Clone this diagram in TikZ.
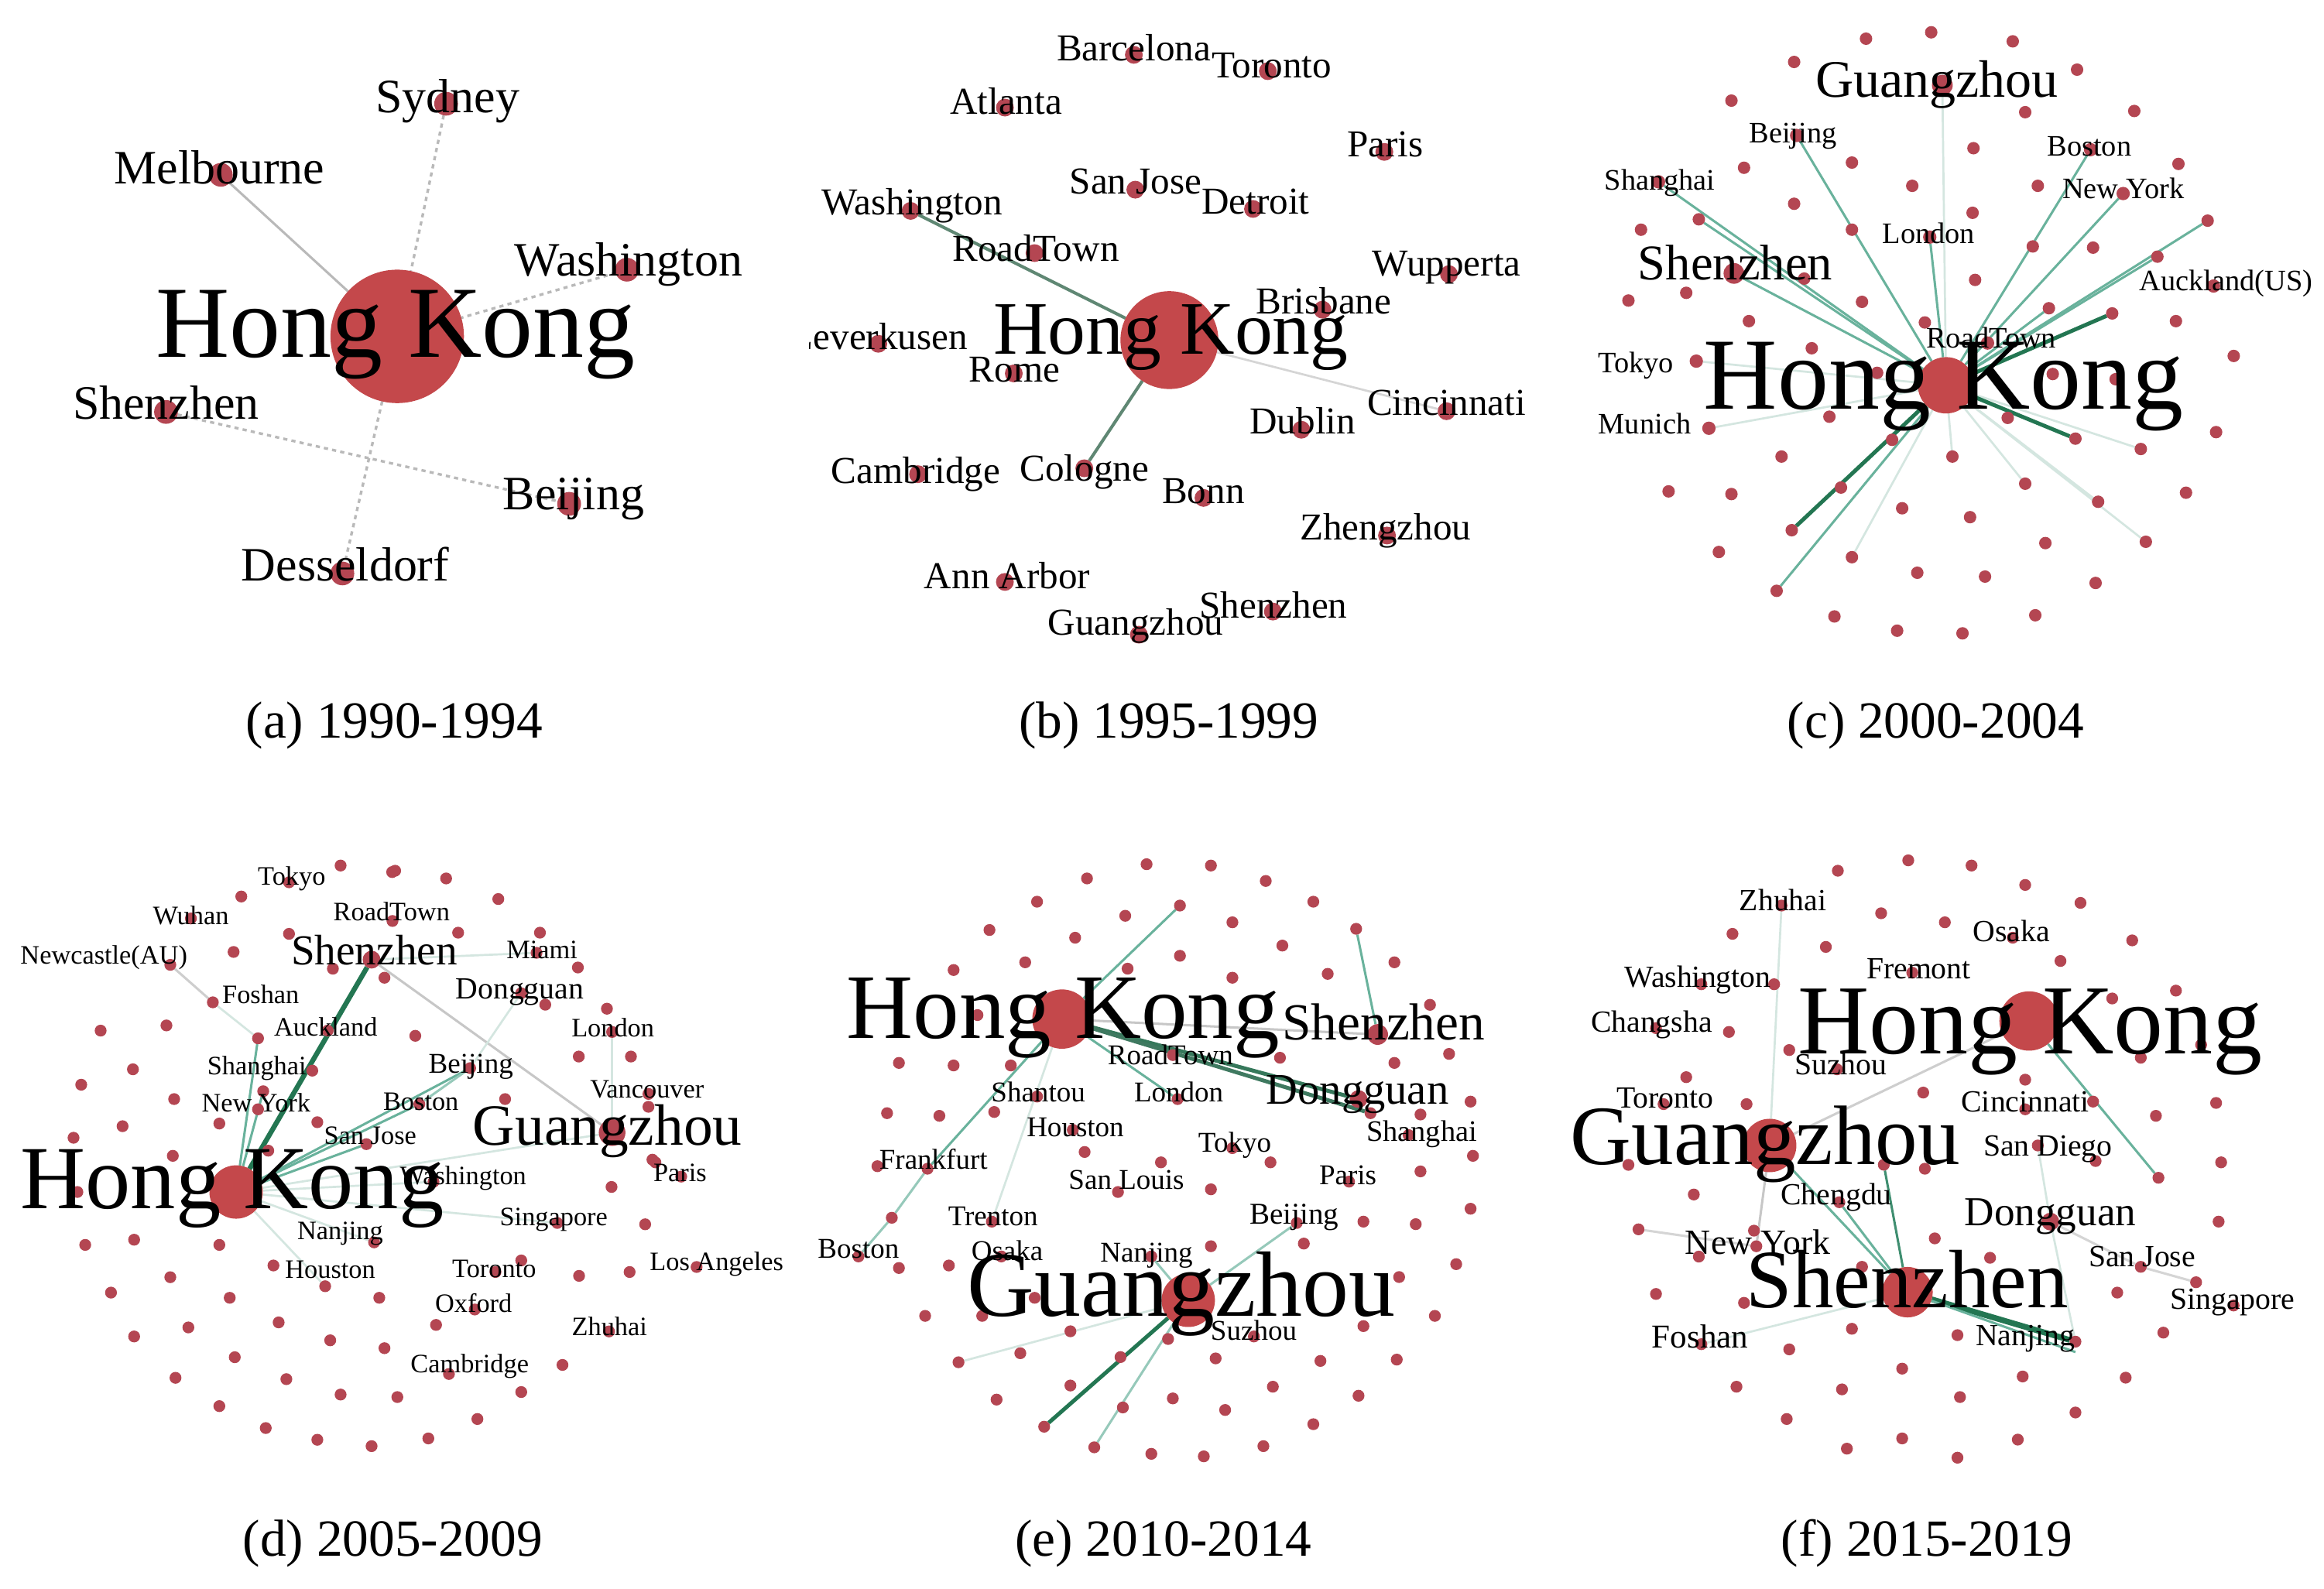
\documentclass[tikz,border=0pt]{standalone}
\usepackage{fontspec}
\setmainfont{Liberation Serif}
\pgfdeclarelayer{background}
\pgfsetlayers{background,main}
\definecolor{nodered}{RGB}{180,70,82}
\definecolor{bigred}{RGB}{196,72,75}
\definecolor{tealE}{RGB}{105,178,156}
\definecolor{darkE}{RGB}{35,118,82}
\definecolor{faintE}{RGB}{212,230,224}
\definecolor{grayE}{RGB}{185,185,185}
\definecolor{bE}{RGB}{95,135,115}
\tikzset{
  dt/.style={circle, fill=nodered, draw=none, inner sep=0pt, outer sep=0pt, minimum size=#1*0.569pt},
  dt/.default=4,
  bgc/.style={circle, fill=bigred, draw=none, inner sep=0pt, outer sep=0pt, minimum size=#1*0.569pt},
  lb/.style={inner sep=0pt, anchor=base, text=black, font=\fontsize{#1pt}{#1pt}\selectfont},
  te/.style={draw=tealE, line width=0.45pt},
  de/.style={draw=darkE, line width=0.75pt},
  fe/.style={draw=faintE, line width=0.4pt},
  ge/.style={draw=grayE, line width=0.45pt},
  ae/.style={draw=grayE, line width=0.5pt, dash pattern=on 0.8pt off 0.8pt},
  be/.style={draw=bE, line width=0.6pt},
}
\begin{document}
\begin{tikzpicture}[x=0.01cm, y=-0.01cm]
\useasboundingbox (0,0) rectangle (1568,1072);
\begin{pgfonlayer}{background}
\fill[white] (0,0) rectangle (1568,1072);
\end{pgfonlayer}

%% ================= (a) =================
\node[bgc=45] (aHK) at (268,227) {};
\node[dt=8] (aSyd) at (301,70) {};
\node[dt=8] (aMel) at (149,118) {};
\node[dt=8] (aWas) at (423,182) {};
\node[dt=8] (aShz) at (112,278) {};
\node[dt=8] (aBei) at (384,340) {};
\node[dt=8] (aDes) at (231,387) {};
\node[lb=19.6] (aHKl) at (267,241) {Hong Kong};
\node[lb=9.2] (aSydl) at (302,76) {Sydney};
\node[lb=9.2] (aMell) at (148,124) {Melbourne};
\node[lb=9.2] (aWasl) at (424,186) {Washington};
\node[lb=9.2] (aShzl) at (112,283) {Shenzhen};
\node[lb=9.2] (aBeil) at (387,344) {Beijing};
\node[lb=9.2] (aDesl) at (233,392) {Desseldorf};
\begin{pgfonlayer}{background}
\draw[ge] (aMel) -- (aHK);
\draw[ae] (aSyd) -- (aHK);
\draw[ae] (aHK) -- (aDes);
\draw[ae] (aWas) -- (aHK);
\draw[ae] (aShz) -- (aBei);
\end{pgfonlayer}

%% ================= (b) =================
\node[bgc=33] (bHK) at (789,229.5) {};
\node[dt=6] (bBar) at (765,37) {};
\node[dt=6] (bTor) at (855.4,48) {};
\node[dt=6] (bAtl) at (678,72.6) {};
\node[dt=6] (bPar) at (934,102.5) {};
\node[dt=6] (bSJ) at (766,128) {};
\node[dt=6] (bDet) at (845.4,141) {};
\node[dt=6] (bWas) at (614.4,142.3) {};
\node[dt=6] (bRT) at (698,170.8) {};
\node[dt=6] (bWup) at (977.6,185) {};
\node[dt=6] (bBri) at (892.3,209) {};
\node[dt=6] (bLev) at (592.6,232) {};
\node[dt=6] (bRom) at (684,252) {};
\node[dt=6] (bCin) at (976,277.5) {};
\node[dt=6] (bDub) at (878,290) {};
\node[dt=6] (bCam) at (619.4,320) {};
\node[dt=6] (bCol) at (731.6,316) {};
\node[dt=6] (bBon) at (812,336) {};
\node[dt=6] (bZhe) at (935.8,361.4) {};
\node[dt=6] (bAnn) at (678,392.7) {};
\node[dt=6] (bShz) at (858.8,412.7) {};
\node[dt=6] (bGz) at (768.4,428.3) {};
\node[lb=14.5] (bHKl) at (790,239) {Hong Kong};
\node[lb=7.3] (bBarl) at (765,41) {Barcelona};
\node[lb=7.3] (bTorl) at (858,52.6) {Toronto};
\node[lb=7.3] (bAtll) at (678.8,77) {Atlanta};
\node[lb=7.3] (bParl) at (934.6,106) {Paris};
\node[lb=7.3] (bSJl) at (766.3,131) {San Jose};
\node[lb=7.3] (bDetl) at (847.1,144.6) {Detroit};
\node[lb=7.3] (bWasl) at (615.2,145) {Washington};
\node[lb=7.3] (bRTl) at (698.9,176.5) {RoadTown};
\node[lb=7.3] (bWupl) at (976,186.4) {Wupperta};
\node[lb=7.3] (bBril) at (893.1,212) {Brisbane};
\begin{scope}
\clip (546,200) rectangle (720,260);
\node[lb=7.3] (bLevl) at (593,236) {Leverkusen};
\end{scope}
\node[lb=7.3] (bRoml) at (684.6,257.6) {Rome};
\node[lb=7.3] (bCinl) at (976,280) {Cincinnati};
\node[lb=7.3] (bDubl) at (878.9,293) {Dublin};
\node[lb=7.3] (bCaml) at (617.8,326) {Cambridge};
\node[lb=7.3] (bColl) at (731.6,324.4) {Cologne};
\node[lb=7.3] (bBonl) at (811.9,340) {Bonn};
\node[lb=7.3] (bZhel) at (934.9,364.3) {Zhengzhou};
\node[lb=7.3] (bAnnl) at (679.6,397) {Ann Arbor};
\node[lb=7.3] (bShzl) at (859.2,417) {Shenzhen};
\node[lb=7.3] (bGzl) at (766.3,428.3) {Guangzhou};
\begin{pgfonlayer}{background}
\draw[be] (bWas) -- (bHK);
\draw[be] (bCol) -- (bHK);
\draw[fe, draw=grayE!60] (bHK) -- (bCin);
\end{pgfonlayer}

%% ================= (c) =================
\foreach \x/\y [count=\i] in {1259/26.1, 1303/21.8, 1358/27.9, 1210.5/41.8, 1401.4/47, 1168.2/67.9, 1366.4/75.7, 1440/74.9, 1331.5/100, 1249.5/109.7, 1176.7/113.2, 1469.8/110.6, 1290.2/125.4, 1374.9/125.4, 1210.5/137.5, 1330.9/143.6, 1107.2/155, 1249.5/155, 1371.5/166.3, 1412.2/167.1, 1332.6/188.9, 1098.7/202.8, 1137.7/197.6, 1256.3/203.7, 1217.3/188, 1468.1/216.7, 1180/216.7, 1298.7/217.6, 1222.4/235, 1507.1/240.2, 1234.3/281.2, 1202/308.1, 1276.6/296.8, 1317.3/308.1, 1354.6/282, 1444.4/303, 1495.2/291.6, 1125.8/331.6, 1168.2/333.4, 1242.1/329, 1366.4/326.4, 1415.6/338.6, 1474.9/332.5, 1283.4/343, 1329.2/349, 1380/366.5, 1447.8/365.6, 1159.7/372.5, 1249.5/376, 1293.6/386.5, 1339.3/389.1, 1413.9/393.4, 1237.7/416, 1373.2/415.2, 1280/425.6, 1324.1/427.4, 1385/252.4, 1427.4/255.9, 1266.5/251.6}
  \node[dt=4.2] (cd\i) at (\x,\y) {};
\node[bgc=19] (cHK) at (1313,260) {};
\node[dt=7] (cGz) at (1310.5,57.5) {};
\node[dt=4.5] (cBei) at (1212.2,91.4) {};
\node[dt=4.5] (cSha) at (1119,122.7) {};
\node[dt=7] (cShz) at (1169.9,184.5) {};
\node[dt=4.5] (cLon) at (1302,160) {};
\node[dt=4.5] (cBos) at (1410.5,101) {};
\node[dt=4.5] (cNY) at (1432.5,130.6) {};
\node[dt=4.5] (cAuc) at (1493.5,193) {};
\node[dt=4.5] (cRT) at (1341,231.5) {};
\node[dt=4.5] (cTok) at (1144.5,243.7) {};
\node[dt=4.5] (cMun) at (1153,289) {};
\node[dt=4.2] (ca) at (1208.9,357.8) {};
\node[dt=4.2] (cb) at (1198.7,398.7) {};
\node[dt=4.2] (cc) at (1400.3,296) {};
\node[dt=4.2] (cdd) at (1489.5,148.9) {};
\node[dt=4.2] (ce) at (1455.6,173.2) {};
\node[dt=4.2] (cf) at (1425.1,211.5) {};
\node[dt=4.2] (cg) at (1382.4,208) {};
\node[dt=4.2] (ch) at (1146.2,148) {};
\node[lb=19.6] (cHKl) at (1311.4,276) {Hong Kong};
\node[lb=10.1] (cGzl) at (1306.8,65.3) {Guangzhou};
\node[lb=9.6] (cShzl) at (1170.8,189) {Shenzhen};
\node[lb=5.7] (cBeil) at (1209.7,96.6) {Beijing};
\node[lb=5.7] (cShal) at (1119.9,128) {Shanghai};
\node[lb=5.7] (cLonl) at (1301.3,164.5) {London};
\node[lb=5.7] (cBosl) at (1409.7,105.3) {Boston};
\node[lb=5.7] (cNYl) at (1432.6,134) {New York};
\node[lb=5.7] (cAucl) at (1502,195.9) {Auckland(US)};
\node[lb=5.7] (cRTl) at (1343.5,235) {RoadTown};
\node[lb=5.7] (cTokl) at (1103.7,251.6) {Tokyo};
\node[lb=5.7] (cMunl) at (1109.7,292.5) {Munich};
\begin{pgfonlayer}{background}
\foreach \n in {cTok,cMun,cd41,cd42,cd47,cd34,cd49,cGz,cd36}
  \draw[fe] (cHK) -- (\n);
\foreach \n in {cBei,cSha,ch,cShz,cLon,cBos,cNY,cdd,ce,cg,cb}
  \draw[te] (cHK) -- (\n);
\foreach \n in {ca,cf,cc}
  \draw[de] (cHK) -- (\n);
\end{pgfonlayer}

%% ================= (d) =================
\foreach \x/\y [count=\i] in {229.8/584.1, 264.6/588.5, 162.8/605, 157.6/642.4, 195/630.2, 224.6/653.7, 259.4/659.8, 112.3/692, 67.9/695.5, 89.7/721.6, 54.8/732, 117.5/741.7, 82.7/760, 148/758.2, 214.1/757.3, 49.6/767.8, 116.6/780, 181/776.5, 266.6/587.6, 301/592.8, 336.2/606.7, 309.1/629.4, 364.3/629.4, 389.9/652.9, 409.5/680.7, 367.9/678, 280.2/699, 390.5/713, 425.7/713, 340.8/741.7, 437.5/746.9, 440.2/782.6, 442.2/784.4, 412.6/801, 435.3/826.2, 52.2/804.4, 57.5/840.1, 90.5/836.6, 148/840.1, 184.5/854, 114.9/861.9, 74.9/872.3, 155/875.8, 255.9/875.8, 188/892.4, 294.2/894.1, 90.5/901.9, 127.1/895.8, 222.8/904.5, 259.4/909.8, 158.4/915.9, 379.5/921.1, 118.4/929.8, 193.2/930.7, 229.8/941.1, 268.1/942.8, 351.7/939.4, 148/948.9, 322.1/957.6, 179.3/963.7, 214.1/971.6, 250.7/975.9, 289/970.7, 424.8/858.4, 390.7/861, 351.7/850.6}
  \node[dt=4] (dd\i) at (\x,\y) {};
\node[bgc=18] (dHK) at (159.3,804.4) {};
\node[dt=9] (dGz) at (413,764.3) {};
\node[dt=6] (dShz) at (250.7,647.6) {};
\node[dt=4] (dTok) at (195,595.4) {};
\node[dt=4] (dWuh) at (128.8,619.8) {};
\node[dt=4] (dNew) at (114.9,651.1) {};
\node[dt=4] (dRT) at (264.8,621.5) {};
\node[dt=4] (dFos) at (143.6,676.4) {};
\node[dt=4] (dAuc) at (221.1,695.5) {};
\node[dt=4] (dSha) at (210.7,722.5) {};
\node[dt=4] (dNY) at (174.1,748.6) {};
\node[dt=4] (dSJ) at (247.2,772.1) {};
\node[dt=4] (dMia) at (362,643) {};
\node[dt=4] (dDon) at (351.6,670.3) {};
\node[dt=4] (dLon) at (413,696.4) {};
\node[dt=4] (dBei) at (317.2,720.8) {};
\node[dt=4] (dBos) at (282.9,745.1) {};
\node[dt=4] (dVan) at (437.5,738.2) {};
\node[dt=4] (dWas) at (292.5,797.5) {};
\node[dt=4] (dPar) at (459.6,794) {};
\node[dt=4] (dSin) at (376,825.3) {};
\node[dt=4] (dNan) at (252.4,838.4) {};
\node[dt=4] (dHou) at (219.4,868) {};
\node[dt=4] (dTor) at (334.3,858.4) {};
\node[dt=4] (dLA) at (470,855) {};
\node[dt=4] (dOxf) at (320.3,883.7) {};
\node[dt=4] (dZhu) at (410.9,898.5) {};
\node[dt=4] (dCam) at (302.9,927.2) {};
\node[dt=4] (da) at (174.1,700.7) {};
\node[dt=4] (db) at (177.6,736.4) {};
\node[lb=17.3] (dHKl) at (156.7,815.8) {Hong Kong};
\node[lb=11.2] (dGzl) at (409.9,773) {Guangzhou};
\node[lb=8.2] (dShzl) at (252.5,651) {Shenzhen};
\node[lb=5.9] (dDonl) at (350.7,673.8) {Dongguan};
\node[lb=5.5] (dBeil) at (317.7,724.2) {Beijing};
\node[lb=5.1] (dTokl) at (196.8,597.2) {Tokyo};
\node[lb=5.1] (dWuhl) at (128.8,624.1) {Wuhan};
\node[lb=5.1] (dNewl) at (70.1,650.3) {Newcastle(AU)};
\node[lb=5.1] (dRTl) at (264.2,621.5) {RoadTown};
\node[lb=5.1] (dFosl) at (175.9,677.2) {Foshan};
\node[lb=5.1] (dAucl) at (219.8,699) {Auckland};
\node[lb=5.1] (dShal) at (173.3,725.1) {Shanghai};
\node[lb=5.1] (dNYl) at (172.8,750.4) {New York};
\node[lb=5.1] (dSJl) at (249.8,772.1) {San Jose};
\node[lb=5.1] (dMial) at (365.7,646.8) {Miami};
\node[lb=5.1] (dLonl) at (413.5,699.5) {London};
\node[lb=5.1] (dBosl) at (284,749.5) {Boston};
\node[lb=5.1] (dVanl) at (436.6,740.8) {Vancouver};
\node[lb=5.1] (dWasl) at (312.5,799.2) {Washington};
\node[lb=5.1] (dParl) at (458.8,797.5) {Paris};
\node[lb=5.1] (dSinl) at (373.6,827) {Singapore};
\node[lb=5.1] (dNanl) at (229.5,836.6) {Nanjing};
\node[lb=5.1] (dHoul) at (222.8,862.8) {Houston};
\node[lb=5.1] (dTorl) at (333.4,861.9) {Toronto};
\node[lb=5.1] (dLAl) at (483.5,857.5) {Los Angeles};
\node[lb=5.1] (dOxfl) at (319.5,885.4) {Oxford};
\node[lb=5.1] (dZhul) at (411.2,901) {Zhuhai};
\node[lb=5.1] (dCaml) at (316.9,926.3) {Cambridge};
\begin{pgfonlayer}{background}
\draw[de, line width=0.95pt] (dShz) -- (dHK);
\foreach \n in {da,db,dBei,dBos,dSJ}
  \draw[te] (dHK) -- (\n);
\foreach \n in {dWas,dSin,dNan,dHou,dGz}
  \draw[fe] (dHK) -- (\n);
\draw[fe] (dFos) -- (da);
\draw[ge, draw=grayE!70] (dNew) -- (dFos);
\draw[ge, draw=grayE!80] (dShz) -- (dGz);
\draw[te, draw=tealE!70] (dBei) -- (dBos);
\draw[fe] (dBei) -- (dDon);
\draw[fe] (dLon) -- (dGz);
\draw[fe] (dShz) -- (dMia);
\end{pgfonlayer}

%% ================= (e) =================
\foreach \x/\y [count=\i] in {773.6/583.2, 817/584.1, 733.4/592.8, 854/594.5, 699.7/608.5, 886.1/608.5, 759.2/618, 667.6/627.6, 831.5/622.4, 725.4/632.8, 865.2/638.1, 691.7/649.4, 796.1/645, 940.8/649.4, 643.4/654.6, 760.8/653.7, 831.5/659.8, 895.8/657.2, 964.8/678.1, 659.5/685, 977.7/711.2, 606.5/717.3, 643.4/719, 682/719, 863.6/713.8, 940.8/717.3, 598.5/751.2, 633.8/753, 670.8/750.4, 958.4/752.1, 992.2/743.4, 731.8/777.4, 783.3/784.4, 857.2/784.4, 958.4/790.5, 993.8/780, 817/802.6, 592/787, 919.9/824.4, 955.2/826.1, 992.2/815.7, 817/841, 879.7/839.2, 640.2/854, 982.5/853.1, 944/861.8, 606.5/855.7, 698.1/875.8, 624.2/888, 662.7/888, 968.1/888, 722.2/898.4, 788.1/903.6, 919.9/894.9, 688.4/913.2, 756/915.8, 820.2/916.7, 890.9/918.4, 942.4/917.5, 722.2/935, 858.8/935.8, 916.6/941.9, 672.4/944.5, 791.3/943.7, 757.6/949.8, 826.6/951.5, 886.1/961.1, 776.8/981.1, 812.2/982.8, 852.4/975.9}
  \node[dt=4] (ed\i) at (\x,\y) {};
\node[bgc=20] (eHK) at (716.5,687.7) {};
\node[bgc=18] (eGz) at (801.7,877.5) {};
\node[dt=7] (eShz) at (929.5,698.1) {};
\node[dt=6] (eDon) at (916.6,741.7) {};
\node[dt=4] (eRT) at (791.3,712) {};
\node[dt=4] (eSht) at (699.7,740) {};
\node[dt=4] (eLon) at (794.5,741.7) {};
\node[dt=4] (eHou) at (723.8,762.5) {};
\node[dt=4] (eTok) at (831.5,774.8) {};
\node[dt=4] (eSha) at (950.4,766) {};
\node[dt=4] (eFra) at (625.8,788.7) {};
\node[dt=4] (eSL) at (754.3,804.4) {};
\node[dt=4] (ePar) at (910.2,797.4) {};
\node[dt=4] (eTre) at (669.2,824.4) {};
\node[dt=4] (eBei) at (874.9,825.3) {};
\node[dt=4] (eBos) at (579.2,847.9) {};
\node[dt=4] (eOsa) at (675.6,847.9) {};
\node[dt=4] (eNan) at (776.8,847.9) {};
\node[dt=4] (eSuz) at (846,901.9) {};
\node[dt=4] (ea) at (924.7,751.2) {};
\node[dt=4] (eb) at (601.7,821.8) {};
\node[dt=4] (ec) at (646.7,919.3) {};
\node[dt=4] (edd) at (704.5,962.8) {};
\node[dt=4] (ee) at (738.3,976.7) {};
\node[dt=4] (ef) at (796.1,611.1) {};
\node[dt=4] (eg) at (915,626.8) {};
\node[lb=17.7] (eHKl) at (717.4,700.7) {Hong Kong};
\node[lb=17.8] (eGzl) at (797,888) {Guangzhou};
\node[lb=10] (eShzl) at (933.5,701.6) {Shenzhen};
\node[lb=8.4] (eDonl) at (915.9,745.1) {Dongguan};
\node[lb=5.5] (eRTl) at (789.7,718.2) {RoadTown};
\node[lb=5.5] (eShtl) at (700.5,743.4) {Shantou};
\node[lb=5.5] (eLonl) at (795.3,743.4) {London};
\node[lb=5.5] (eHoul) at (725.5,766.9) {Houston};
\node[lb=5.5] (eTokl) at (833.1,777.4) {Tokyo};
\node[lb=5.7] (eShal) at (959.3,770) {Shanghai};
\node[lb=5.5] (eFral) at (629.8,788.7) {Frankfurt};
\node[lb=5.5] (eSLl) at (760,802.6) {San Louis};
\node[lb=5.5] (eParl) at (909.4,799.2) {Paris};
\node[lb=5.5] (eTrel) at (670,827) {Trenton};
\node[lb=5.8] (eBeil) at (873.3,826.1) {Beijing};
\node[lb=5.5] (eBosl) at (579.2,848.8) {Boston};
\node[lb=5.5] (eOsal) at (679.6,850.5) {Osaka};
\node[lb=5.5] (eNanl) at (773.6,851.4) {Nanjing};
\node[lb=5.5] (eSuzl) at (845.9,904.5) {Suzhou};
\begin{pgfonlayer}{background}
\draw[de, draw=darkE!80!gray] (eHK) -- (eDon);
\draw[de, draw=darkE!70!gray] (eHK) -- (ea);
\draw[de] (eGz) -- (edd);
\foreach \n in {eLon,ef,eFra}
  \draw[te] (eHK) -- (\n);
\draw[te, draw=tealE!70] (eFra) -- (eb) -- (eBos);
\draw[te] (eShz) -- (eg);
\foreach \n in {eBei,ee,eNan}
  \draw[te, draw=tealE!70] (eGz) -- (\n);
\draw[ge, draw=grayE!80] (eHK) -- (eShz);
\draw[fe] (eGz) -- (ec);
\draw[fe] (eHK) -- (eTre);
\end{pgfonlayer}

%% ================= (f) =================
\foreach \x/\y [count=\i] in {1240/587.6, 1287.5/580.6, 1330.2/584.1, 1366.4/597.2, 1403.7/609.3, 1269.2/616.3, 1312.2/622.4, 1168.9/630.2, 1438.6/634.6, 1231.9/639, 1390.2/648.5, 1197/664.2, 1468.1/668.5, 1425.1/673.8, 1166.5/696.4, 1485.1/705.1, 1207.2/708.6, 1444.4/713.8, 1366.4/728.6, 1137.7/726.9, 1297.6/737.3, 1178.4/745.1, 1454.6/753, 1495.2/744.3, 1366.4/748.6, 1098.7/786.1, 1142.8/806.1, 1298.7/788.7, 1498.6/784.4, 1413.9/783.5, 1496.9/824.4, 1305.4/835.7, 1342.7/848.8, 1146.2/848, 1117.3/873.2, 1176.7/879.2, 1256.3/854.9, 1428.5/872.3, 1249.5/896.7, 1320.7/901, 1459.6/899.3, 1207.2/910.6, 1283.4/923.6, 1364.7/928.9, 1434.2/929.7, 1171.6/935.8, 1242.8/937.6, 1322.4/942.8, 1400.3/953.2, 1205.5/957.6, 1283.4/970.7, 1361.4/971.5, 1246.1/977.6, 1320.7/983.7}
  \node[dt=4] (fd\i) at (\x,\y) {};
\node[bgc=20] (fHK) at (1369,689) {};
\node[bgc=18] (fGz) at (1194,773) {};
\node[bgc=17] (fShz) at (1287,872) {};
\node[dt=6] (fDon) at (1383.4,824.4) {};
\node[dt=4] (fZhu) at (1202,611.1) {};
\node[dt=4] (fOsa) at (1358,632.8) {};
\node[dt=4] (fFre) at (1290.2,656.4) {};
\node[dt=4] (fWas) at (1147.9,664.2) {};
\node[dt=4] (fCha) at (1117.3,693.8) {};
\node[dt=4] (fSuz) at (1239.4,721.6) {};
\node[dt=4] (fTor) at (1122.4,745.1) {};
\node[dt=4] (fCin) at (1412.2,743.4) {};
\node[dt=4] (fSD) at (1374.9,773) {};
\node[dt=4] (fChe) at (1241,811.3) {};
\node[dt=4] (fNY) at (1185,841) {};
\node[dt=4] (fSJ) at (1444.4,854.9) {};
\node[dt=4] (fSin) at (1507,881) {};
\node[dt=4] (fFos) at (1147.9,907.1) {};
\node[dt=4] (fNan) at (1400.3,905.4) {};
\node[dt=4] (fa) at (1456.3,794.8) {};
\node[dt=4] (fb) at (1105.5,829.6) {};
\node[dt=4] (fc) at (1271,786) {};
\node[dt=4] (fdd) at (1481.7,865.3) {};
\node[dt=4] (fe) at (1183.4,830.5) {};
\node[lb=19] (fHKl) at (1369.8,711.2) {Hong Kong};
\node[lb=16.2] (fGzl) at (1191,786) {Guangzhou};
\node[lb=15.9] (fShzl) at (1286.8,882.7) {Shenzhen};
\node[lb=7.9] (fDonl) at (1383.4,827) {Dongguan};
\node[lb=6.8] (fNYl) at (1186,846.2) {New York};
\node[lb=6.4] (fFosl) at (1147,909.7) {Foshan};
\node[lb=5.9] (fZhul) at (1203,614.6) {Zhuhai};
\node[lb=5.9] (fOsal) at (1357.2,635.5) {Osaka};
\node[lb=5.9] (fFrel) at (1294.5,660.7) {Fremont};
\node[lb=5.9] (fWasl) at (1145.5,666) {Washington};
\node[lb=5.9] (fChal) at (1114.3,696.4) {Changsha};
\node[lb=5.9] (fSuzl) at (1241.9,725.1) {Suzhou};
\node[lb=5.9] (fTorl) at (1123.3,747.8) {Toronto};
\node[lb=5.9] (fCinl) at (1366.5,750.4) {Cincinnati};
\node[lb=5.9] (fSDl) at (1381.7,780) {San Diego};
\node[lb=5.9] (fChel) at (1239,813.1) {Chengdu};
\node[lb=5.9] (fSJl) at (1445.3,854.9) {San Jose};
\node[lb=5.9] (fSinl) at (1506.3,883.6) {Singapore};
\node[lb=5.9] (fNanl) at (1366.5,908) {Nanjing};
\begin{pgfonlayer}{background}
\draw[te] (fHK) -- (fa);
\draw[te] (fGz) -- (fShz);
\draw[te] (fChe) -- (fShz);
\draw[te, draw=darkE!60!tealE] (fc) -- (fShz);
\draw[de, line width=1.1pt] (fShz) -- (fNan);
\draw[te] (fShz) -- ([yshift=-2pt]fNan.center);
\draw[ge, draw=grayE!70] (fHK) -- (fGz);
\draw[fe] (fZhu) -- (fGz);
\draw[ge, draw=grayE!80] (fNY) -- (fGz);
\draw[ge, draw=grayE!60] (fb) -- (fNY);
\draw[fe] (fFos) -- (fShz);
\draw[ge, draw=grayE!60] (fDon) -- (fSJ) -- (fdd);
\draw[fe] (fDon) -- (fNan);
\draw[fe] (fSD) -- (fDon);
\end{pgfonlayer}

%% ================= captions =================
\node[lb=10] (capa) at (266,497.9) {(a) 1990-1994};
\node[lb=10] (capb) at (788.5,497.9) {(b) 1995-1999};
\node[lb=10] (capc) at (1306,497.9) {(c) 2000-2004};
\node[lb=10] (capd) at (265,1050) {(d) 2005-2009};
\node[lb=10] (cape) at (785,1050) {(e) 2010-2014};
\node[lb=10] (capf) at (1300,1050) {(f) 2015-2019};
\end{tikzpicture}
\end{document}
